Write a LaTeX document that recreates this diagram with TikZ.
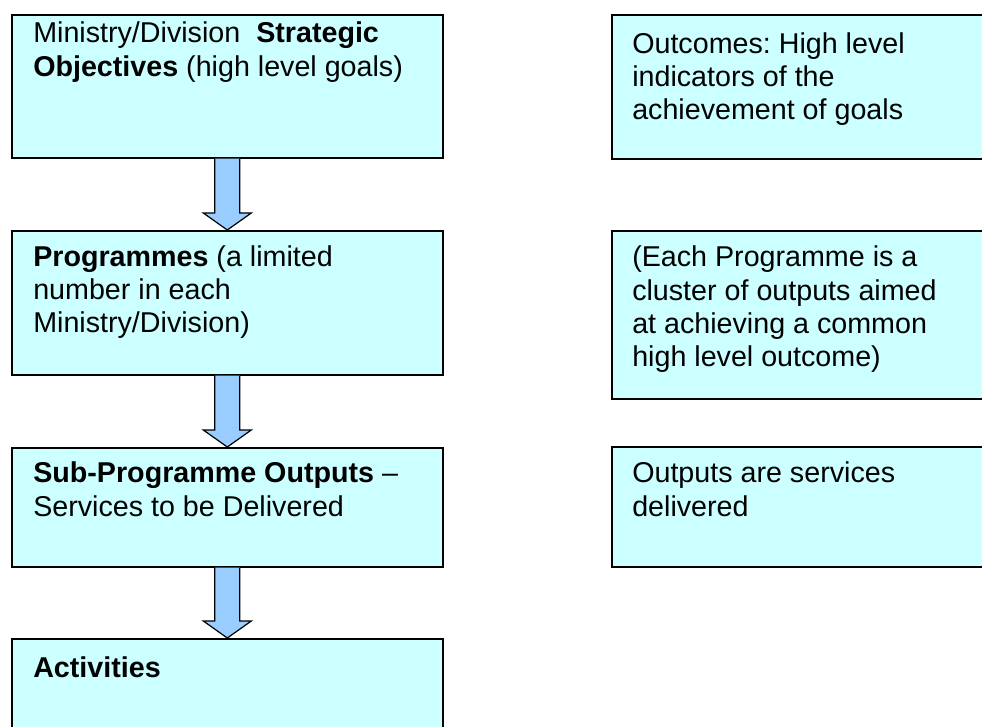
\documentclass[tikz,border=0pt]{standalone}
\usepackage{fontspec}
\setmainfont{Liberation Sans}
\usetikzlibrary{calc}
\frenchspacing
\definecolor{boxfill}{HTML}{CCFFFF}
\definecolor{arrowfill}{HTML}{99CCFF}
\tikzset{
  panel/.style={draw=black, line width=1.2pt, fill=boxfill, rectangle, inner sep=0pt, anchor=north west},
  shade/.style={fill=black!25, draw=none},
  txt/.style={anchor=base west, inner sep=0pt, align=left, font=\fontsize{21.5pt}{25pt}\selectfont},
  blockarrow/.style={draw=black, line width=0.9pt, fill=arrowfill, line join=miter},
}
\newcommand{\panelbox}[5]{% name, x1, y1, x2, y2
  \fill[shade] (#2+2,#3+2) rectangle (#4+2,#5+2);
  \node[panel, minimum width={(#4-#2)*0.75pt}, minimum height={(#5-#3)*0.75pt}] (#1) at (#2,#3) {};
}
\newcommand{\flowarrow}[2]{% from box, to box
  \draw[blockarrow] ($(#1.south)+(-12.5,0)$) -- ($(#2.north)+(-12.5,-17)$) -- ($(#2.north)+(-24,-17)$)
    -- (#2.north) -- ($(#2.north)+(24,-17)$) -- ($(#2.north)+(12.5,-17)$) -- ($(#1.south)+(12.5,0)$);
}
\begin{document}
\begin{tikzpicture}[x=0.75pt, y=-0.75pt]
  \useasboundingbox (0,0) rectangle (982,727);
  \clip (0,0) rectangle (982,727);
  % left column
  \panelbox{b1}{11}{14}{442}{157}
  \panelbox{b2}{11}{230}{442}{374}
  \panelbox{b3}{11}{447}{442}{566}
  \panelbox{b4}{11}{638}{442}{760}
  % right column
  \panelbox{r1}{611}{14}{1000}{158}
  \panelbox{r2}{611}{230}{1000}{398}
  \panelbox{r3}{611}{446}{1000}{566}
  % arrows between the left boxes
  \flowarrow{b1}{b2}
  \flowarrow{b2}{b3}
  \flowarrow{b3}{b4}
  % texts (anchored at the baseline of their last line)
  \node[txt] (t1) at (33,76.3) {Ministry/Division\ \ \textbf{Strategic}\\\textbf{Objectives} (high level goals)};
  \node[txt] (t2) at (33,332.7) {\textbf{Programmes} (a limited\\number in each\\Ministry/Division)};
  \node[txt] (t3) at (33,516.3) {\textbf{Sub-Programme Outputs} --\\Services to be Delivered};
  \node[txt] (t4) at (33,677) {\textbf{Activities}};
  \node[txt] (u1) at (632,119.7) {Outcomes: High level\\indicators of the\\achievement of goals};
  \node[txt] (u2) at (632,367) {(Each Programme is a\\cluster of outputs aimed\\at achieving a common\\high level outcome)};
  \node[txt] (u3) at (632,516.3) {Outputs are services\\delivered};
\end{tikzpicture}
\end{document}
